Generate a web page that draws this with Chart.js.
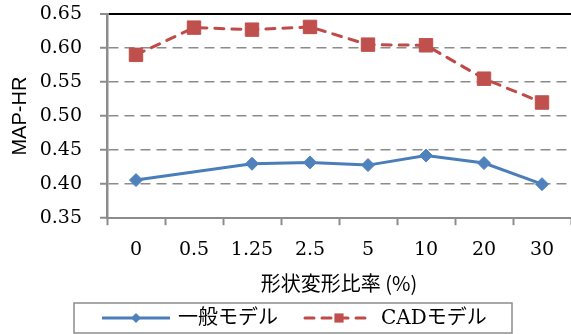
<!DOCTYPE html>
<html>
<head>
<meta charset="utf-8">
<script src="https://cdn.jsdelivr.net/npm/chart.js@4.4.0/dist/chart.umd.min.js"></script>
<style>
  html, body { margin: 0; padding: 0; background: #fff; }
  #wrap { width: 571px; height: 334px; }
</style>
</head>
<body>
<div id="wrap"><canvas id="mapChart"></canvas></div>
<script>
// 形状変形比率ごとの MAP-HR
const ratios = ['0', '0.5', '1.25', '2.5', '5', '10', '20', '30'];
const generalModel = [0.406, null, 0.430, 0.432, 0.428, 0.442, 0.431, 0.400];
const cadModel = [0.590, 0.630, 0.627, 0.631, 0.605, 0.604, 0.555, 0.520];
const yTicks = [0.35, 0.40, 0.45, 0.50, 0.55, 0.60, 0.65];
const seriesNames = ['一般モデル', 'CADモデル'];

const GRID = '#8c8c8c';
const SERIF = '"DejaVu Serif", "Noto Sans CJK JP", serif';

// 凡例: 枠付きで線とマーカーを並べる
const boxLegend = {
  id: 'boxLegend',
  afterDraw(chart) {
    const ctx = chart.ctx;
    const left = 74, top = 303, w = 438, h = 30;
    const y = top + h / 2;
    ctx.save();
    ctx.strokeStyle = GRID;
    ctx.lineWidth = 1.5;
    ctx.setLineDash([]);
    ctx.strokeRect(left, top, w, h);

    ctx.font = '20px ' + SERIF;
    ctx.textBaseline = 'middle';
    let x = left + 28;
    chart.data.datasets.forEach(ds => {
      const sample = 68;
      ctx.strokeStyle = ds.borderColor;
      ctx.lineWidth = 3;
      ctx.lineCap = ds.borderCapStyle || 'butt';
      ctx.setLineDash(ds.borderDash || []);
      ctx.beginPath();
      ctx.moveTo(x, y);
      ctx.lineTo(x + sample, y);
      ctx.stroke();
      ctx.setLineDash([]);
      ctx.fillStyle = ds.pointBackgroundColor;
      Chart.helpers.drawPoint(ctx, {
        pointStyle: ds.pointStyle,
        radius: ds.pointStyle === 'rect' ? 6.5 : 5,
        rotation: 0,
        borderWidth: 0
      }, x + sample / 2, y);
      ctx.fillStyle = '#000';
      ctx.fillText(ds.label, x + sample + 8, y + 1);
      x += sample + 8 + ctx.measureText(ds.label).width + 27;
    });
    ctx.restore();
  }
};

new Chart(document.getElementById('mapChart'), {
  type: 'line',
  data: {
    labels: ratios,
    datasets: [
      {
        label: seriesNames[0],
        data: generalModel,
        borderColor: '#4a7ebb',
        borderWidth: 3,
        pointStyle: 'rectRot',
        pointRadius: 6.5,
        pointHoverRadius: 6.5,
        pointBackgroundColor: '#4f81bd',
        pointBorderColor: '#4f81bd',
        pointBorderWidth: 1,
        spanGaps: true,
        tension: 0
      },
      {
        label: seriesNames[1],
        data: cadModel,
        borderColor: '#be4b48',
        borderWidth: 3,
        borderDash: [9, 8],
        borderCapStyle: 'round',
        pointStyle: 'rect',
        pointRadius: 9.5,
        pointHoverRadius: 9.5,
        pointBackgroundColor: '#c0504d',
        pointBorderColor: '#c0504d',
        pointBorderWidth: 1,
        tension: 0
      }
    ]
  },
  options: {
    responsive: true,
    maintainAspectRatio: false,
    animation: false,
    layout: { autoPadding: false, padding: { top: 0, left: 0, right: 0, bottom: 36 } },
    plugins: {
      legend: { display: false },
      tooltip: { enabled: false }
    },
    scales: {
      x: {
        offset: true,
        afterFit: s => {
          s.paddingLeft = 0;
          s.paddingRight = 0;
        },
        grid: {
          offset: true,
          drawOnChartArea: false,
          drawTicks: true,
          tickLength: 7,
          tickColor: GRID,
          tickWidth: 2
        },
        border: { color: GRID, width: 2 },
        ticks: {
          color: '#000',
          padding: 13,
          font: { family: SERIF, size: 19 }
        },
        title: {
          display: true,
          text: '形状変形比率 (%)',
          color: '#000',
          padding: { top: -3, bottom: 3 },
          font: { family: '"Noto Sans CJK JP", sans-serif', size: 20 }
        }
      },
      y: {
        min: 0.35,
        max: 0.65,
        afterBuildTicks: s => { s.ticks = yTicks.map(v => ({ value: v })); },
        afterFit: s => {
          s.width = 107;
          s.paddingTop = 14;
          s.paddingBottom = 0;
        },
        grid: {
          color: c => c.tick.value === 0.65 ? '#000' : (c.tick.value === 0.35 ? 'rgba(0,0,0,0)' : GRID),
          lineWidth: c => c.tick.value === 0.65 ? 2 : 1.5,
          drawTicks: true,
          tickLength: 7,
          tickColor: GRID,
          tickWidth: 2,
          tickBorderDash: []
        },
        border: {
          color: GRID,
          width: 2.5,
          dash: c => c.tick && c.tick.value === 0.65 ? [] : [10, 6]
        },
        ticks: {
          color: '#000',
          padding: 18,
          font: { family: SERIF, size: 19 },
          callback: v => v.toFixed(2)
        },
        title: {
          display: true,
          text: 'MAP-HR',
          color: '#000',
          padding: { top: 8, bottom: 0 },
          font: { family: '"Liberation Sans", Arial, sans-serif', size: 20 }
        }
      }
    }
  },
  plugins: [boxLegend]
});
</script>
</body>
</html>
